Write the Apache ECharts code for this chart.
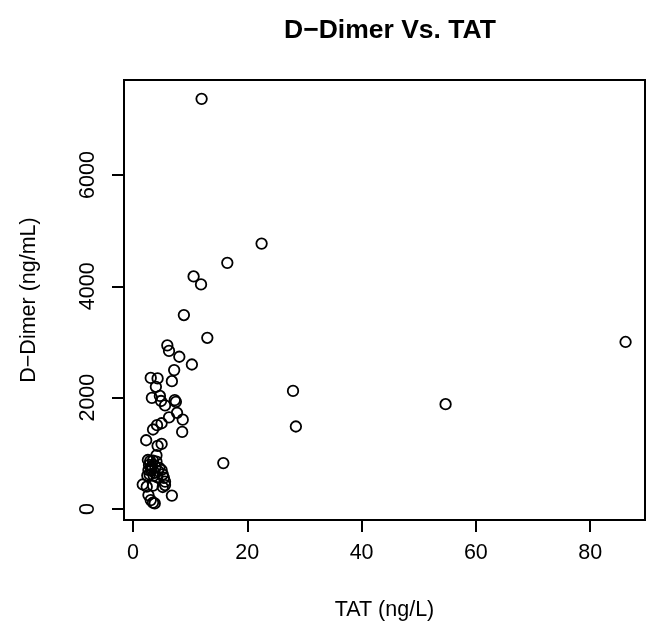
<!DOCTYPE html>
<html><head><meta charset="utf-8">
<script src="https://cdn.jsdelivr.net/npm/echarts@6/dist/echarts.min.js"></script>
<style>html,body{margin:0;padding:0;background:#fff}#c{width:650px;height:629px}</style>
</head><body><div id="c"></div>
<script>
const titleText = "D\u2212Dimer Vs. TAT";
const xName = "TAT (ng/L)";
const yName = "D\u2212Dimer (ng/mL)";
const xTicks = [0, 20, 40, 60, 80];
const yTicks = [0, 2000, 4000, 6000];
const tat = [
  12.0, 22.5, 16.5, 10.6, 11.9, 8.9, 13.0, 86.2, 6.0, 6.3, 8.1, 10.3, 7.2, 6.8,
  3.1, 4.3, 4.0, 28.0, 4.7, 3.3, 4.9, 7.3, 7.5, 5.6, 54.7, 7.7, 6.3, 8.7, 5.0,
  4.2, 3.5, 28.5, 8.6, 2.3, 5.0, 4.3, 4.1, 15.8,
  2.6, 3.0, 3.5, 4.1, 2.8, 3.3, 3.9, 4.6, 2.7, 3.2, 3.8, 4.4, 5.0, 2.9, 3.6, 4.2,
  5.2, 5.4, 2.5, 3.1,
  1.7, 3.5, 5.6, 5.6, 5.2, 6.8, 2.7, 3.1, 3.5, 3.8, 2.4
];
const dDimer = [
  7368, 4768, 4422, 4177, 4034, 3484, 3075, 3000, 2940, 2840, 2735, 2595, 2495, 2295,
  2355, 2345, 2195, 2121, 2030, 1995, 1940, 1955, 1925, 1860, 1882, 1728, 1645, 1605, 1540,
  1505, 1428, 1482, 1385, 1235, 1168, 1134, 965, 825,
  880, 860, 870, 850, 790, 770, 760, 740, 700, 690, 650, 680, 700, 620, 600, 570,
  620, 560, 600, 740,
  440, 420, 490, 430, 395, 240, 250, 160, 115, 100, 400
];
const points = tat.map((x, i) => [x, dDimer[i]]);
const font = "'Liberation Sans', Arial, sans-serif";
const chart = echarts.init(document.getElementById('c'), null, {renderer: 'canvas'});
chart.setOption({
  animation: false,
  backgroundColor: '#fff',
  title: {
    text: titleText, left: 385, top: 12, textAlign: 'center',
    textStyle: {fontFamily: font, fontSize: 26.5, fontWeight: 'bold', color: '#000'}
  },
  grid: {left: 124, right: 5, top: 80, bottom: 109, show: true, borderColor: '#000', borderWidth: 2, backgroundColor: 'transparent'},
  xAxis: {
    type: 'value', min: -1.58, max: 89.6,
    name: xName, nameLocation: 'middle', nameGap: 79,
    nameTextStyle: {fontFamily: font, fontSize: 21.5, color: '#000'},
    axisLine: {show: false, onZero: false},
    splitLine: {show: false},
    axisTick: {show: true, customValues: xTicks, length: 12, lineStyle: {color: '#000', width: 2}},
    axisLabel: {customValues: xTicks, margin: 22, fontFamily: font, fontSize: 21.5, color: '#000',
      formatter: v => String(v)}
  },
  yAxis: {
    type: 'value', min: -198, max: 7706,
    name: yName, nameLocation: 'middle', nameGap: 84, nameRotate: 90,
    nameTextStyle: {fontFamily: font, fontSize: 21.5, color: '#000'},
    axisLine: {show: false, onZero: false},
    splitLine: {show: false},
    axisTick: {show: true, customValues: yTicks, length: 12, lineStyle: {color: '#000', width: 2}},
    axisLabel: {customValues: yTicks, rotate: 90, margin: 25, fontFamily: font, fontSize: 21.5, color: '#000',
      formatter: v => String(v)}
  },
  series: [{
    type: 'scatter', data: points, symbol: 'circle', symbolSize: 10.5,
    itemStyle: {color: 'rgba(255,255,255,0)', borderColor: '#000', borderWidth: 1.8, opacity: 1}
  }]
});
</script></body></html>
